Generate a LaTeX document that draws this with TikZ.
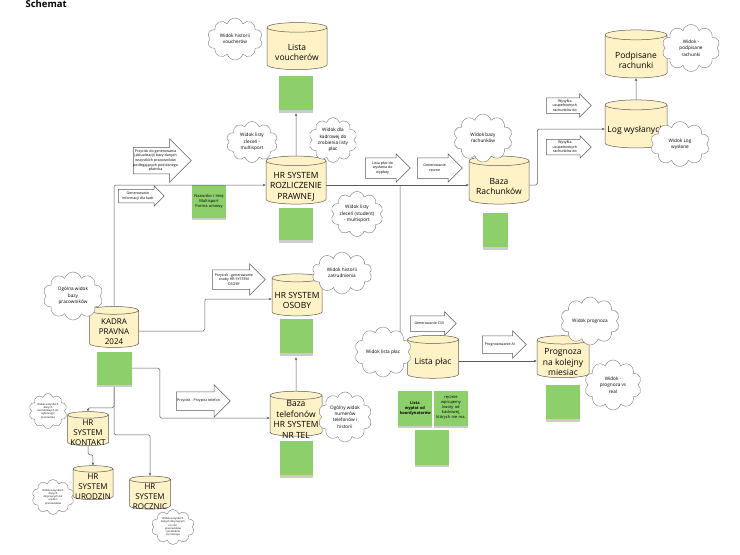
\documentclass[tikz,border=0pt]{standalone}
\usepackage{fontspec}
\setmainfont{Open Sans}
\usetikzlibrary{arrows.meta, shapes.geometric, shapes.symbols, shapes.arrows,
                shadows, positioning}
\definecolor{dbYellow}{HTML}{FFF2C6}
\definecolor{noteGreen}{HTML}{8CCF6B}
\definecolor{lineGrey}{HTML}{5A5A5A}
\tikzset{
  % one unit is one pixel of the board, y grows downwards
  every picture/.append style = {x=1pt, y=-1pt, line width=0.5pt},
  dbase/.style   = {cylinder, shape border rotate=90, aspect=0.16, draw=lineGrey,
                    cylinder uses custom fill, cylinder body fill=dbYellow,
                    cylinder end fill=dbYellow, inner ysep=0pt, inner xsep=#1/2,
                    minimum width=#1},
  dblbl/.style   = {font=\fontsize{8.5}{10.5}\selectfont, align=center, yshift=-1.5pt},
  dbsmall/.style = {font=\fontsize{8}{10}\selectfont, align=center, yshift=-1pt},
  note/.style    = {fill=noteGreen, inner sep=1pt, align=center,
                    font=\fontsize{4}{5}\selectfont,
                    drop shadow={shadow xshift=0pt, shadow yshift=-2.5pt, opacity=0.4}},
  thought/.style = {cloud, cloud puffs=10, cloud ignores aspect, draw=lineGrey!80,
                    line width=0.4pt, fill=white, inner sep=0pt, align=center,
                    font=\fontsize{4.7}{6.3}\selectfont},
  tinythought/.style = {thought, font=\fontsize{2.6}{3.3}\selectfont},
  hint/.style n args = {3}{single arrow, draw=lineGrey, fill=white, anchor=tail,
                    inner xsep=0pt, minimum height=#1, inner ysep=#2,
                    single arrow head extend=#3},
  hintlbl/.style = {font=\fontsize{3.6}{4.6}\selectfont, align=center},
  conn/.style    = {-{Stealth[length=3pt, width=2.6pt]}, draw=lineGrey,
                    rounded corners=1.5pt},
}

\begin{document}
\begin{tikzpicture}
  \useasboundingbox (0,0) rectangle (740,555);
  \node[anchor=base west, font=\bfseries\fontsize{9.5}{11}\selectfont] (title) at (22,7.5) {Schemat};

  % databases
  \node[dbase=60pt, minimum height=47pt,
        label={[dblbl]center:{Lista\\voucherów}}] (vouch) at (297,51) {};
  \node[dbase=60pt, minimum height=48pt,
        label={[dblbl]center:{HR SYSTEM\\ROZLICZENIE\\PRAWNEJ}}] (rozl) at (296,185) {};
  \node[dbase=60pt, minimum height=48pt,
        label={[dblbl]center:{Baza\\Rachunków}}] (rach) at (499,185) {};
  \node[dbase=62pt, minimum height=48pt,
        label={[dblbl]center:{Podpisane\\rachunki}}] (podp) at (636,59) {};
  \node[dbase=62pt, minimum height=48pt,
        label={[dblbl]center:{Log wysłanych}}] (logw) at (636,129) {};
  \node[dbase=49pt, minimum height=41pt,
        label={[dbsmall]center:{KADRA\\PRAVNA\\2024}}] (kadra) at (114,331) {};
  \node[dbase=50pt, minimum height=42pt,
        label={[dblbl]center:{HR SYSTEM\\OSOBY}}] (osoby) at (297,299) {};
  \node[dbase=52pt, minimum height=45pt,
        label={[dblbl]center:{Baza\\telefonów\\HR SYSTEM\\NR TEL}}] (tel) at (296,418) {};
  \node[dbase=51pt, minimum height=43pt,
        label={[dblbl]center:{Lista płac}}] (lplac) at (433,361) {};
  \node[dbase=52pt, minimum height=42pt,
        label={[dblbl]center:{Prognoza\\na kolejny\\miesiac}}] (progn) at (563,361) {};
  \node[dbase=41pt, minimum height=34pt,
        label={[dbsmall]center:{HR\\SYSTEM\\KONTAKT}}] (kont) at (88,432) {};
  \node[dbase=40pt, minimum height=34pt,
        label={[dbsmall]center:{HR\\SYSTEM\\URODZIN}}] (urod) at (93,486) {};
  \node[dbase=41pt, minimum height=33pt,
        label={[dbsmall]center:{HR\\SYSTEM\\ROCZNIC}}] (rocz) at (150,496) {};

  % sticky notes
  \node[note, minimum width=34pt, minimum height=34pt] (nvouch) at (296,93) {};
  \node[note, minimum width=34pt, minimum height=32pt] (nrozl) at (296,224) {};
  \node[note, minimum width=25pt, minimum height=34pt] (nrach) at (495,230) {};
  \node[note, minimum width=35pt, minimum height=33pt] (nkadra) at (114,368) {};
  \node[note, minimum width=33pt, minimum height=34pt] (nosoby) at (296,336) {};
  \node[note, minimum width=33pt, minimum height=34pt] (ntel) at (296,458) {};
  \node[note, minimum width=34pt, minimum height=33pt, text width=30pt]
    (nmulti) at (209,201) {Nazwisko i Imię\\Multisport\\Forma umowy};
  \node[note, minimum width=34pt, minimum height=35pt, text width=30pt,
        font=\bfseries\fontsize{4}{5}\selectfont]
    (nlp1) at (415,408) {Lista wypłat od\\koordynatorów\\[6pt]};
  \node[note, minimum width=34pt, minimum height=35pt, text width=30pt]
    (nlp2) at (451,408) {ręcznie\\wpisujemy\\kwoty od\\kadrowej,\\których nie ma.};
  \node[note, minimum width=34pt, minimum height=35pt] (nlp3) at (432,447) {};
  \node[note, minimum width=34pt, minimum height=34pt] (nprogn) at (563,402) {};

  % block arrows
  \node[hint={58pt}{13pt}{8.5pt},
        label={[hintlbl]center:{Przycisk do generowania\\(aktualizacji) bazy danych\\wszystkich pracowników\\podlegających pod danego\\płatnika}}]
    (btnbaza) at (133,160.5) {};
  \node[hint={46pt}{6.5pt}{3.5pt},
        label={[hintlbl]center:{Generowanie\\informacji dla kadr}}] (genkadr) at (118,196) {};
  \node[hint={53pt}{9.5pt}{6pt},
        label={[hintlbl]center:{Przycisk - generowanie\\osoby HR SYSTEM\\OSOBY}}] (btnosoba) at (212,279.5) {};
  \node[hint={54pt}{9pt}{7pt},
        label={[hintlbl]center:{Przycisk - Przypisz telefon}}] (btntel) at (176,401) {};
  \node[hint={45pt}{10pt}{4pt},
        label={[hintlbl]center:{Lista płac do\\wysłania do\\wypłaty}}] (wyplata) at (365,168) {};
  \node[hint={45pt}{10pt}{4pt},
        label={[hintlbl]center:{Generowanie\\ręczne}}] (genrecz) at (417,168) {};
  \node[hint={45pt}{7.5pt}{4pt},
        label={[hintlbl]center:{Wysyłka\\uzupełnionych\\rachunków do}}] (wysylka1) at (546,105.5) {};
  \node[hint={45pt}{7.5pt}{3.5pt},
        label={[hintlbl]center:{Wysyłka\\uzupełnionych\\rachunków do}}] (wysylka2) at (546,147) {};
  \node[hint={46pt}{7.5pt}{4pt},
        label={[hintlbl]center:{Generowanie CSV}}] (gencsv) at (410,323.5) {};
  \node[hint={44pt}{8.5pt}{5pt},
        label={[hintlbl]center:{Prognozowanie AI}}] (progai) at (482,344.5) {};

  % connectors
  \coordinate (split) at (400,185);
  \draw[conn] (kadra.north) |- (rozl.west);
  \draw[conn] (rozl.north) -- ([yshift=-3pt]nvouch.south);
  \draw[conn] (rozl.east) -- (rach.west);
  \draw[conn] (split) |- (lplac.west);
  \draw[conn] (rach.east) -- ++(8,0) |- (logw.west);
  \draw[conn] (logw.north) -- (podp.south);
  \draw[conn] (lplac.east) -- (progn.west);
  \draw[conn] (kadra.east) -- ++(66,0) |- (osoby.west);
  \draw[conn] (nkadra.east) -- ++(28,0) |- (tel.west);
  \draw[conn] (tel.north) -- ([yshift=-4pt]nosoby.south);
  \draw[conn] ([yshift=-2pt]nkadra.south) -- ++(0,21) -| (kont.north);
  \draw[conn] ([yshift=-2pt]nkadra.south) -- ++(0,48) -| (rocz.north);
  \draw[conn] (kont.south) -- ++(0,9) -| (urod.north);

  % views
  \node[thought, minimum width=55pt, minimum height=42pt] (cvouch) at (235,39) {Widok historii\\voucherów};
  \node[thought, minimum width=51pt, minimum height=41pt] (czlec) at (252,142) {Widok listy\\zleceń -\\multisport};
  \node[thought, minimum width=42pt, minimum height=45pt] (ckadr) at (333,140) {Widok dla\\kadrowej do\\zrobienia listy\\płac};
  \node[thought, minimum width=51pt, minimum height=45pt] (cstud) at (357,214) {Widok listy\\zleceń (student)\\- multisport};
  \node[thought, minimum width=60pt, minimum height=42pt] (czatr) at (342,273) {Widok historii\\zatrudnienia};
  \node[thought, minimum width=54pt, minimum height=50pt] (ctel) at (345,417) {Ogólny widok\\numerów\\telefonów i\\historii};
  \node[thought, minimum width=59pt, minimum height=48pt] (crach) at (483,138) {Widok bazy\\rachunków};
  \node[thought, minimum width=58pt, minimum height=47pt] (cpodp) at (691,48) {Widok -\\podpisane\\rachunki};
  \node[thought, minimum width=59pt, minimum height=45pt] (clog) at (680,144) {Widok Log\\wysłane};
  \node[thought, minimum width=57pt, minimum height=50pt] (clplac) at (383,352) {Widok lista płac};
  \node[thought, minimum width=59pt, minimum height=48pt] (cprog) at (590,321) {Widok prognoza};
  \node[thought, minimum width=57pt, minimum height=50pt] (creal) at (613,385) {Widok -\\prognoza vs\\real};
  \node[thought, minimum width=60pt, minimum height=48pt] (cbaza) at (73,296) {Ogólna widok\\bazy\\pracowników};
  \node[tinythought, minimum width=38pt, minimum height=35pt] (ckont) at (48,411)
    {Widok wszystkich\\danych\\kontaktowych do\\wybranego\\pracownika};
  \node[tinythought, minimum width=42pt, minimum height=35pt] (curod) at (53,497)
    {Widok wszystkich\\danych\\dotyczących dat\\urodzin\\pracowników};
  \node[tinythought, minimum width=43pt, minimum height=35pt] (crocz) at (173,527)
    {Widok wszystkich\\danych dotyczących\\rocznic\\pracowników\\z podziałem\\na miesiące};
\end{tikzpicture}
\end{document}
